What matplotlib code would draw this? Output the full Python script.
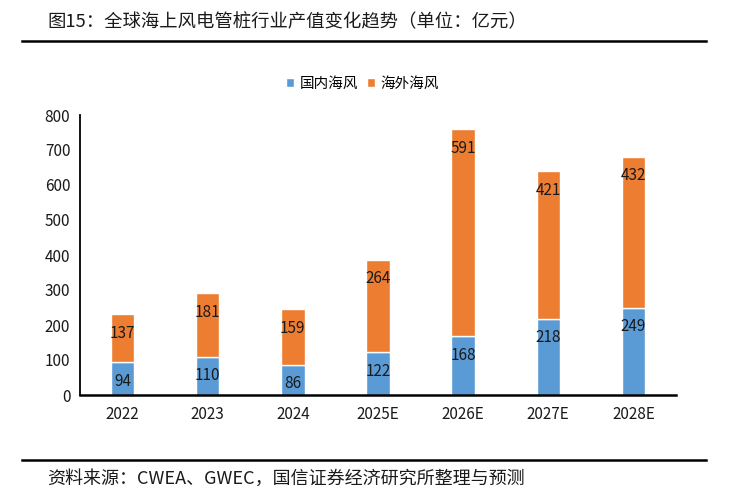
import numpy as np
import matplotlib.pyplot as plt

plt.rcParams['font.family'] = ['Noto Sans CJK SC', 'DejaVu Sans']

years = ['2022', '2023', '2024', '2025E', '2026E', '2027E', '2028E']
domestic = [94, 110, 86, 122, 168, 218, 249]
overseas = [137, 181, 159, 264, 591, 421, 432]

blue = '#5B9BD5'
orange = '#ED7D31'

fig = plt.figure(figsize=(7.32, 5.01), dpi=100)
ax = fig.add_axes([80 / 732, 1 - 395 / 501, (676 - 80) / 732, 280 / 501])

x = np.arange(len(years))
w = 0.275
ax.bar(x, domestic, w, color=blue, edgecolor='white', linewidth=1, label='国内海风', zorder=2)
ax.bar(x, overseas, w, bottom=domestic, color=orange, edgecolor='white', linewidth=1,
       label='海外海风', zorder=2)

# labels sit just under the top of each segment (inside end)
for i in range(len(years)):
    ax.annotate(str(domestic[i]), (x[i], domestic[i]), xytext=(0, -19), textcoords='offset pixels',
                ha='center', va='center', fontsize=11, color='#1a1a1a')
    ax.annotate(str(overseas[i]), (x[i], domestic[i] + overseas[i]), xytext=(0, -19),
                textcoords='offset pixels', ha='center', va='center', fontsize=11, color='#1a1a1a')

ax.set_xlim(-0.5, len(years) - 0.5)
ax.set_ylim(0, 800)
ax.set_yticks(range(0, 801, 100))
ax.set_xticks(x)
ax.set_xticklabels(years)
ax.tick_params(axis='both', length=0, labelsize=11, colors='#1a1a1a')
ax.tick_params(axis='x', pad=8)
ax.tick_params(axis='y', pad=7)
for s in ['top', 'right']:
    ax.spines[s].set_visible(False)
ax.spines['left'].set_linewidth(1.3)
ax.spines['bottom'].set_linewidth(1.8)

ax.legend(loc='lower center', bbox_to_anchor=(0.474, 1.04), ncol=2, frameon=False, fontsize=10.5,
          handlelength=0.55, handleheight=0.55, handletextpad=0.4, columnspacing=0.6)

fig.text(47 / 732, 1 - 22 / 501, '图15：全球海上风电管桩行业产值变化趋势（单位：亿元）', fontsize=13.2,
         va='center', ha='left', color='#1a1a1a')
fig.add_artist(plt.Line2D([22 / 732, 706 / 732], [1 - 41 / 501, 1 - 41 / 501], color='black', lw=1.8))
fig.add_artist(plt.Line2D([22 / 732, 706 / 732], [1 - 460 / 501, 1 - 460 / 501], color='black', lw=1.8))
fig.text(47 / 732, 1 - 479 / 501, '资料来源：CWEA、GWEC，国信证券经济研究所整理与预测', fontsize=13,
         va='center', ha='left', color='#1a1a1a')

fig.savefig('out.png', dpi=100)
